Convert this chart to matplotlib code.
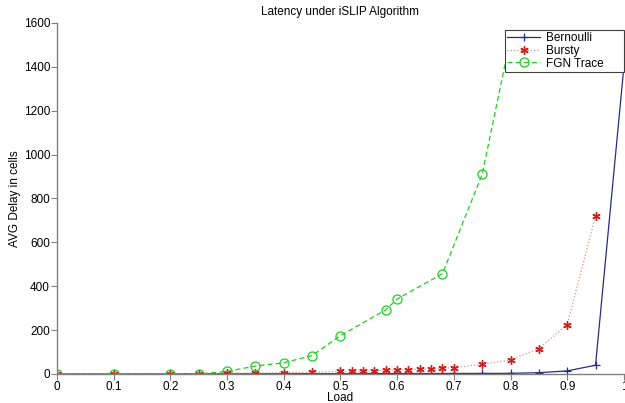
import matplotlib
matplotlib.use("Agg")
import matplotlib.pyplot as plt

plt.rcParams['font.family'] = ['Liberation Sans', 'DejaVu Sans']

load_main = [0, 0.1, 0.2, 0.25, 0.3, 0.35, 0.4, 0.45, 0.5, 0.52, 0.54, 0.56, 0.58,
             0.6, 0.62, 0.64, 0.66, 0.68, 0.7, 0.75, 0.8, 0.85, 0.9, 0.95, 1.0]
bernoulli = [0, 0, 0.5, 0.8, 1, 1, 1, 1.2, 1.3, 1.4, 1.5, 1.6, 1.7,
             1.8, 1.9, 2, 2.1, 2.2, 2.4, 2.6, 3, 6, 14, 40, 1400]

load_bursty = [0, 0.1, 0.2, 0.25, 0.3, 0.35, 0.4, 0.45, 0.5, 0.52, 0.54, 0.56, 0.58,
               0.6, 0.62, 0.64, 0.66, 0.68, 0.7, 0.75, 0.8, 0.85, 0.9, 0.95]
bursty = [0, 0, 1, 2, 3, 4, 6, 8, 12, 12, 13, 14, 17,
          18, 20, 21, 23, 26, 29, 44, 64, 116, 224, 721]

load_fgn = [0, 0.1, 0.2, 0.25, 0.3, 0.35, 0.4, 0.45, 0.5, 0.58, 0.6, 0.68, 0.75, 0.8]
fgn = [0, 0, 0, 0, 12, 36, 51, 84, 175, 292, 342, 457, 910, 1530]

fig = plt.figure(figsize=(6.25, 4.03), dpi=100)
ax = fig.add_axes([0.0912, 0.072, 0.907, 0.871])

ax.plot(load_main, bernoulli, color='#2b2b80', linestyle='-', linewidth=0.9,
        marker='+', markersize=6, markeredgewidth=0.9, label='Bernoulli')
ax.plot(load_bursty, bursty, color='#d89090', linestyle=':', linewidth=0.9,
        marker=(6, 2, 0), markersize=6, markeredgewidth=1.0,
        markerfacecolor='#cc2020', markeredgecolor='#cc2020', label='Bursty')
ax.plot(load_fgn, fgn, color='#22cc22', linestyle='--', linewidth=0.9, dashes=(4, 2.5),
        marker='o', markersize=6.5, markerfacecolor='none', markeredgecolor='#22cc22',
        markeredgewidth=0.9, label='FGN Trace')

ax.set_xlim(0, 1)
ax.set_ylim(0, 1600)
ax.set_xticks([0, 0.1, 0.2, 0.3, 0.4, 0.5, 0.6, 0.7, 0.8, 0.9, 1])
ax.set_xticklabels(['0', '0.1', '0.2', '0.3', '0.4', '0.5', '0.6', '0.7', '0.8', '0.9', '1'])
ax.set_yticks(range(0, 1601, 200))

for s in ['top', 'right']:
    ax.spines[s].set_visible(False)
for s in ['left', 'bottom']:
    ax.spines[s].set_color('#808080')
    ax.spines[s].set_linewidth(1.0)

ax.tick_params(axis='both', direction='out', length=4, width=0.8, color='#808080',
               labelsize=8.5, pad=1)

ax.set_xlabel('Load', fontsize=8.5, labelpad=-1)
ax.set_ylabel('AVG Delay in cells', fontsize=8.5, labelpad=2)
ax.set_title('Latency under iSLIP Algorithm', fontsize=8.5, pad=6)

leg = ax.legend(loc='upper left', bbox_to_anchor=(0.790, 0.872, 0.21, 0.108),
                mode='expand', fontsize=8.5,
                frameon=True, fancybox=False, framealpha=1, borderpad=0.2,
                labelspacing=0.05, handlelength=2.8, handletextpad=0.45, borderaxespad=0)
leg.get_frame().set_edgecolor('#404040')
leg.get_frame().set_linewidth(0.8)

fig.savefig('out.png', dpi=100)
